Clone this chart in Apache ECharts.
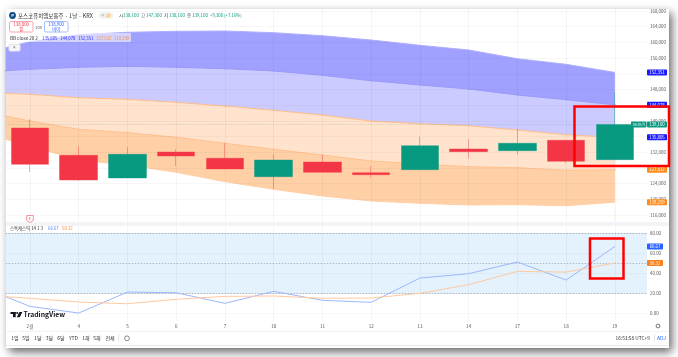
<!DOCTYPE html>
<html>
<head>
<meta charset="utf-8">
<style>
html, body { margin: 0; padding: 0; background: #fff; overflow: hidden; }
#panel { position: absolute; left: 6px; top: 9px; width: 663px; height: 339px; background: #fff; box-shadow: 3px 4px 9px rgba(0,0,0,.6); }
#main { position: absolute; left: 0; top: 0; width: 678px; height: 357px; filter: blur(.3px); }
</style>
<script src="https://cdn.jsdelivr.net/npm/echarts@6/dist/echarts.min.js"></script>
</head>
<body>
<div id="panel"></div>
<div id="main"></div>
<script>
var dayLabels = ['2월', '4', '5', '6', '7', '10', '11', '12', '13', '14', '17', '18', '19'];
var dayIndex = [0, 1, 2, 3, 4, 5, 6, 7, 8, 9, 10, 11, 12];
// the first slot is the session just off the left edge
var bandSlots = [-0.5, 0, 1, 2, 3, 4, 5, 6, 7, 8, 9, 10, 11, 12];

var bbUpper2 = [158645, 160175, 161960, 162570, 162825, 162900, 162470, 161700, 160600, 159260, 158060, 155840, 154410, 152351];
var bbUpper1 = [152780, 153140, 153650, 153900, 153650, 153290, 152710, 151610, 150230, 149140, 148120, 146590, 145390, 144078];
var bbBasis = [147020, 146770, 145900, 145490, 144730, 143780, 142690, 141490, 139960, 139270, 138760, 137670, 136470, 135805];
var bbLower1 = [141240, 139960, 137850, 136980, 135810, 134280, 132750, 131290, 129770, 129000, 128310, 128060, 127390, 127532];
var bbLower2 = [135300, 133590, 130020, 128750, 126880, 124490, 122550, 120840, 119570, 118980, 118550, 118630, 118370, 119259];

// open, close, low, high
var candles = [
    [138180, 128920, 126880, 140390],
    [131220, 124920, 124740, 133590],
    [125430, 131470, 125430, 133260],
    [132060, 131040, 128490, 132820],
    [130450, 127730, 127730, 134280],
    [125760, 130020, 122700, 131470],
    [129510, 126880, 126880, 131290],
    [126780, 126270, 125510, 128490],
    [127550, 133660, 127550, 135960],
    [132820, 132140, 130450, 135300],
    [132390, 134280, 131470, 137920],
    [135040, 129690, 129180, 135040],
    [130100, 139100, 130100, 147300]
];

var stochK = [16.9, 7.3, 0.7, 21.5, 20.8, 10.3, 22.2, 13.3, 11.3, 35.4, 39.7, 51.3, 33.4, 66.67];
var stochD = [16.9, 15.3, 11.6, 9.9, 14.3, 17.2, 17.6, 15.3, 15.6, 20.2, 28.8, 42, 41.3, 50.32];

var priceTicks = [116000, 120000, 124000, 128000, 132000, 136000, 140000, 144000, 148000, 152000, 156000, 160000, 164000, 168000];
var stochTicks = [0, 20, 40, 60, 80];

var lastClose = 139100;
var bbTags = [
    {value: 152351, color: '#1a1aff'},
    {value: 144078, color: '#1a1aff'},
    {value: 135805, color: '#1a1aff'},
    {value: 127532, color: '#ff8c1a'},
    {value: 119259, color: '#ff8c1a'}
];
var stochTags = [
    {value: 66.67, color: '#2962ff'},
    {value: 50.32, color: '#ff7f1a'}
];
var toolbarRanges = [['1일', 15], ['5일', 26], ['1달', 38], ['3달', 49.5], ['6달', 61], ['YTD', 73.5], ['1해', 86], ['5해', 97], ['전체', 110]];

var FONT = '"Noto Sans CJK KR", "Noto Sans", sans-serif';
var GREEN = '#089981';
var RED = '#f23645';

function pairs(xs, ys) {
    return xs.map(function (x, i) {
        return [x, ys[i]];
    });
}

function bandSeries(name, values, fill, line, dots) {
    return {
        name: name,
        type: 'line',
        z: 1,
        xAxisIndex: 0,
        yAxisIndex: 0,
        data: pairs(bandSlots, values),
        showSymbol: dots,
        symbol: 'circle',
        symbolSize: 1.6,
        lineStyle: {color: line, width: 1},
        itemStyle: {color: line},
        areaStyle: {color: fill, opacity: 1, origin: 'start'},
        silent: true
    };
}

function txt(x, y, text, size, color, align, weight) {
    return {
        type: 'text',
        x: x,
        y: y,
        z: 60,
        style: {
            text: text,
            fontSize: size,
            fontFamily: FONT,
            fontWeight: weight || 'normal',
            fill: color,
            align: align || 'left',
            verticalAlign: 'middle'
        }
    };
}

function box(x, y, w, h, fill, stroke, r) {
    return {
        type: 'rect',
        z: 55,
        shape: {x: x, y: y, width: w, height: h, r: r || 0},
        style: {fill: fill, stroke: stroke || null, lineWidth: 1}
    };
}

var chart = echarts.init(document.getElementById('main'), null, {renderer: 'canvas'});

chart.setOption({
    animation: false,
    backgroundColor: 'transparent',
    grid: [
        {left: 5.64, top: 9, width: 641.4, height: 213},
        {left: 5.64, top: 226, width: 641.4, height: 95}
    ],
    xAxis: [
        {
            type: 'value',
            gridIndex: 0,
            min: -0.5,
            max: 12.66,
            z: 3,
            axisLine: {show: false},
            axisTick: {show: false, customValues: dayIndex},
            axisLabel: {show: false, customValues: dayIndex},
            splitLine: {show: true, lineStyle: {color: 'rgba(40,50,80,0.05)', width: 1}}
        },
        {
            type: 'value',
            gridIndex: 1,
            min: -0.5,
            max: 12.66,
            z: 3,
            axisLine: {show: false},
            axisTick: {show: false, customValues: dayIndex},
            axisLabel: {
                show: true,
                customValues: dayIndex,
                margin: 3,
                fontSize: 4.6,
                fontFamily: FONT,
                color: '#555',
                formatter: function (v) {
                    return dayLabels[v];
                }
            },
            splitLine: {show: true, lineStyle: {color: 'rgba(40,50,80,0.05)', width: 1}}
        }
    ],
    yAxis: [
        {
            type: 'value',
            gridIndex: 0,
            position: 'right',
            min: 114216,
            max: 168510,
            z: 3,
            axisLine: {show: false},
            axisTick: {show: false, customValues: priceTicks},
            axisLabel: {
                customValues: priceTicks,
                margin: 3,
                fontSize: 4.4,
                fontFamily: FONT,
                color: '#555',
                formatter: function (v) {
                    return v.toLocaleString('en-US');
                }
            },
            splitLine: {show: true, lineStyle: {color: 'rgba(40,50,80,0.04)', width: 1}}
        },
        {
            type: 'value',
            gridIndex: 1,
            position: 'right',
            min: -7.2,
            max: 87,
            z: 3,
            axisLine: {show: false},
            axisTick: {show: false, customValues: stochTicks},
            axisLabel: {
                customValues: stochTicks,
                margin: 3,
                fontSize: 4.4,
                fontFamily: FONT,
                color: '#555',
                formatter: function (v) {
                    return v.toFixed(2);
                }
            },
            splitLine: {show: true, lineStyle: {color: 'rgba(40,50,80,0.04)', width: 1}}
        }
    ],
    series: [
        // painted back to front so each band shows above the next line
        bandSeries('bbUpper2', bbUpper2, '#a0a0ff', '#aeaeff', false),
        bandSeries('bbUpper1', bbUpper1, '#cbcbff', '#9a9af8', true),
        bandSeries('bbBasis', bbBasis, '#ffe3cc', '#ffbd8c', true),
        bandSeries('bbLower1', bbLower1, '#ffd0a6', '#ffc08f', true),
        bandSeries('bbLower2', bbLower2, '#ffffff', '#ffcfa6', false),
        {
            name: 'price',
            type: 'candlestick',
            layout: 'horizontal',
            z: 5,
            xAxisIndex: 0,
            yAxisIndex: 0,
            barWidth: 38,
            encode: {x: 0, y: [1, 2, 3, 4]},
            data: candles.map(function (c, i) {
                return [dayIndex[i], c[0], c[1], c[2], c[3]];
            }),
            itemStyle: {
                color: GREEN,
                color0: RED,
                borderColor: 'rgba(8,153,129,0.4)',
                borderColor0: 'rgba(242,54,69,0.4)',
                borderWidth: 1
            },
            markLine: {
                silent: true,
                symbol: 'none',
                z: 4,
                label: {show: false},
                lineStyle: {color: 'rgba(90,150,120,0.3)', type: [1, 1.5], width: 1},
                data: [{yAxis: lastClose}]
            }
        },
        {
            name: 'stochK',
            type: 'line',
            z: 5,
            xAxisIndex: 1,
            yAxisIndex: 1,
            showSymbol: false,
            data: pairs(bandSlots, stochK),
            lineStyle: {color: '#9db7fb', width: 1},
            markArea: {
                silent: true,
                z: 1,
                itemStyle: {color: '#e3f2fd'},
                data: [[{yAxis: 20}, {yAxis: 80}]]
            },
            markLine: {
                silent: true,
                symbol: 'none',
                z: 2,
                label: {show: false},
                lineStyle: {color: '#b4b8c0', type: [1.5, 1.5], width: 1},
                data: [{yAxis: 80}, {yAxis: 50}, {yAxis: 20}]
            }
        },
        {
            name: 'stochD',
            type: 'line',
            z: 5,
            xAxisIndex: 1,
            yAxisIndex: 1,
            showSymbol: false,
            data: pairs(bandSlots, stochD),
            lineStyle: {color: '#ffc9a0', width: 1}
        }
    ]
});

// header, tags and toolbar sit on top of the plot
var g = [];

g.push({type: 'rect', z: 40, shape: {x: 6, y: 222, width: 663, height: 4}, style: {fill: '#f2f4f8'}});
g.push({type: 'rect', z: 40, shape: {x: 6, y: 331, width: 663, height: 0.7}, style: {fill: '#eceef2'}});
g.push({type: 'rect', z: 40, shape: {x: 6, y: 345, width: 663, height: 1}, style: {fill: '#e6e8ec'}});

// legend rows
g.push({type: 'circle', z: 55, shape: {cx: 12.5, cy: 15.5, r: 3.4}, style: {fill: '#0f4c81'}});
g.push(txt(12.5, 15.6, 'P', 4, '#fff', 'center', 'bold'));
g.push(txt(18, 15.5, '포스코퓨처엠보통주 · 1날 · KRX', 5.5, '#333'));
g.push(box(99, 12.5, 14, 6, '#eeeeee', null, 3));
g.push(txt(103, 15.5, '=', 5, '#777', 'center'));
g.push({type: 'circle', z: 56, shape: {cx: 108.5, cy: 15.5, r: 2.6}, style: {fill: '#ffe6bf'}});
g.push(txt(108.5, 15.6, 'D', 4, '#ff9800', 'center'));

var ohlc = [['시', 119], ['130,100', 123], ['고', 141], ['147,300', 146], ['저', 164], ['130,100', 169], ['종', 187], ['139,100', 192]];
ohlc.forEach(function (p, i) {
    g.push(txt(p[1], 15.5, p[0], 4.4, i % 2 ? GREEN : '#444'));
});
g.push(txt(210, 15.8, '+9,300 (+7.16%)', 4.3, GREEN));

g.push(box(9.5, 21.5, 23.5, 10.5, '#fff', '#f7a5ac', 1.5));
g.push(txt(21.2, 24.7, '138,800', 4.3, RED, 'center'));
g.push(txt(21.2, 29.2, '팔', 4.2, RED, 'center'));
g.push(txt(38.7, 27, '100', 4, '#555', 'center'));
g.push(box(44.5, 21.5, 23.5, 10.5, '#fff', '#a4bcfb', 1.5));
g.push(txt(56.2, 24.7, '138,900', 4.3, '#2962ff', 'center'));
g.push(txt(56.2, 29.2, '바이', 4.2, '#2962ff', 'center'));

g.push(box(8, 33, 123, 9, 'rgba(255,255,255,0.55)', null, 1));
g.push(txt(10, 38, 'BB close 20 2', 4.6, '#333'));
[['135,805', 42, '#2a2aff'], ['144,078', 60, '#2a2aff'], ['152,351', 78, '#2a2aff'], ['127,532', 96, '#ff9030'], ['119,259', 114, '#ff9030']].forEach(function (p) {
    g.push(txt(p[1], 38, p[0], 4.3, p[2]));
});
g.push(box(9, 44.5, 11, 6.5, '#f6f6f8', '#e4e4e8', 1));
g.push(txt(14.5, 48.3, '^', 5, '#444', 'center'));

g.push(txt(10, 228.7, '스톡캐스틱 14 1 3', 4.4, '#333'));
g.push(txt(48, 228.7, '66.67', 4.3, '#5c84ff'));
g.push(txt(62, 228.7, '50.32', 4.3, '#ff9030'));

// earnings flag on the first day
var flagX = chart.convertToPixel({xAxisIndex: 0}, dayIndex[0]);
g.push({
    type: 'polygon',
    z: 55,
    shape: {points: [[flagX - 3.3, 215.5], [flagX + 3.3, 215.5], [flagX + 3.3, 220.5], [flagX, 222.5], [flagX - 3.3, 220.5]]},
    style: {fill: '#fff', stroke: '#f08a94', lineWidth: 0.9}
});
g.push(txt(flagX, 218.8, 'E', 4, '#e0545f', 'center'));

// TradingView mark
g.push({type: 'rect', z: 56, shape: {x: 10.5, y: 312, width: 5.2, height: 2}, style: {fill: '#131722'}});
g.push({type: 'rect', z: 56, shape: {x: 13, y: 312, width: 2.7, height: 5.2}, style: {fill: '#131722'}});
g.push({type: 'circle', z: 56, shape: {cx: 17.2, cy: 313, r: 1}, style: {fill: '#131722'}});
g.push({type: 'polygon', z: 56, shape: {points: [[19.4, 312], [22.4, 312], [19.8, 317.2], [16.8, 317.2]]}, style: {fill: '#131722'}});
g.push(txt(23.5, 314.5, 'TradingView', 6.8, '#131722', 'left', 'bold'));

// price tags follow the value axes
bbTags.forEach(function (t) {
    var y = chart.convertToPixel({yAxisIndex: 0}, t.value);
    g.push(box(647, y - 3, 20, 6, t.color, null, 0.8));
    g.push(txt(657, y + 0.1, t.value.toLocaleString('en-US'), 4.3, '#fff', 'center'));
});
var closeY = chart.convertToPixel({yAxisIndex: 0}, lastClose);
g.push(box(631, closeY - 3, 15.5, 6, GREEN, null, 0.8));
g.push(txt(638.7, closeY + 0.1, '00:in:h', 3.8, '#d8f3ee', 'center'));
g.push(box(647, closeY - 3, 20, 6, GREEN, null, 0.8));
g.push(txt(657, closeY + 0.1, lastClose.toLocaleString('en-US'), 4.3, '#fff', 'center'));
stochTags.forEach(function (t) {
    var y = chart.convertToPixel({yAxisIndex: 1}, t.value);
    g.push(box(647, y - 3, 16, 6, t.color, null, 0.8));
    g.push(txt(655, y + 0.1, t.value.toFixed(2), 4.3, '#fff', 'center'));
});

// toolbar
toolbarRanges.forEach(function (r) {
    g.push(txt(r[1], 338.3, r[0], 5, '#333', 'center'));
});
g.push({type: 'rect', z: 56, shape: {x: 118.5, y: 334, width: 0.6, height: 8}, style: {fill: '#d8d8dc'}});
g.push({type: 'circle', z: 56, shape: {cx: 127, cy: 338.3, r: 2.4}, style: {fill: 'none', stroke: '#555', lineWidth: 0.7}});
g.push(txt(615.5, 338.3, '16:53:58 UTC+9', 4.8, '#333'));
g.push({type: 'rect', z: 56, shape: {x: 654, y: 334, width: 0.6, height: 8}, style: {fill: '#d8d8dc'}});
g.push(txt(657, 338.3, 'ADJ', 5, '#2962ff'));
g.push({type: 'circle', z: 56, shape: {cx: 658, cy: 326, r: 1.9}, style: {fill: 'none', stroke: '#555', lineWidth: 0.8}});

// red annotation boxes drawn over the screenshot
g.push({type: 'rect', z: 70, shape: {x: 574.5, y: 106.5, width: 94.5, height: 59.5}, style: {fill: 'none', stroke: '#ff0000', lineWidth: 2.5}});
g.push({type: 'rect', z: 70, shape: {x: 590, y: 238.5, width: 33.5, height: 40}, style: {fill: 'none', stroke: '#ff0000', lineWidth: 2.5}});

chart.setOption({graphic: {elements: g}});
</script>
</body>
</html>
